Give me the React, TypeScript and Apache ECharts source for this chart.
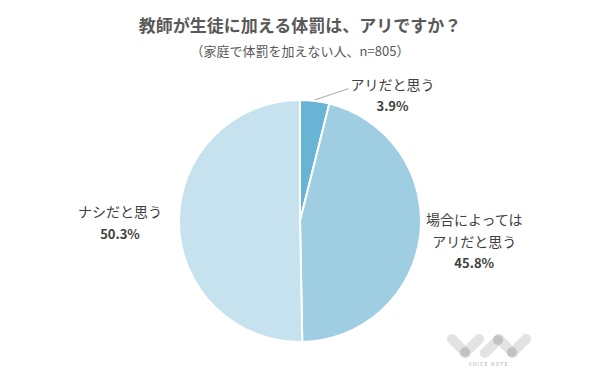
import React, { useEffect, useRef } from "react";
import * as echarts from "echarts";

const categories = ["アリだと思う", "場合によっては\nアリだと思う", "ナシだと思う"];
const values = [3.9, 45.8, 50.3];
const colors = ["#69b3d5", "#9fcde2", "#c5e2ee"];
const titleText = "教師が生徒に加える体罰は、アリですか？";
const subtitleText = "（家庭で体罰を加えない人、n=805）";
const logoText = "V O I C E   N O T E";

const FONT = '"Noto Sans CJK JP", "Noto Sans", sans-serif';

export default function App() {
  const ref = useRef<HTMLDivElement>(null);
  useEffect(() => {
    if (!ref.current) return;
    const chart = echarts.init(ref.current, undefined, { renderer: "svg" });
    const light = "#e3e3e3";
    const dark = "#c2c2c2";
    const capsule = (cx: number, cy: number, rot: number, fill: string) => ({
      type: "rect",
      x: cx,
      y: cy,
      rotation: rot,
      shape: { x: -15, y: -5, width: 30, height: 10, r: 5 },
      style: { fill },
    });
    chart.setOption({
      animation: false,
      backgroundColor: "#ffffff",
      title: [
        {
          text: titleText,
          left: "center",
          top: 11,
          textStyle: { fontFamily: FONT, fontSize: 17, fontWeight: "bold", color: "#595959" },
        },
        {
          text: subtitleText,
          left: "center",
          top: 39,
          textStyle: { fontFamily: FONT, fontSize: 13, fontWeight: "normal", color: "#595959" },
        },
      ],
      graphic: [
        capsule(459, 346, -Math.PI / 4, light),
        capsule(472, 346, Math.PI / 4, light),
        { type: "circle", shape: { cx: 465, cy: 352, r: 5 }, style: { fill: dark } },
        capsule(492, 346, Math.PI / 4, light),
        capsule(506, 346, -Math.PI / 4, light),
        capsule(519, 346, Math.PI / 4, light),
        { type: "circle", shape: { cx: 498, cy: 340, r: 5 }, style: { fill: dark } },
        { type: "circle", shape: { cx: 512, cy: 352, r: 5 }, style: { fill: dark } },
        {
          type: "text",
          x: 488,
          y: 363,
          style: { text: logoText, fontSize: 5, fill: "#b0b0b0", align: "center", verticalAlign: "middle", fontFamily: FONT },
        },
      ],
      series: [
        {
          type: "pie",
          center: [300, 221],
          radius: 121,
          startAngle: 90,
          clockwise: true,
          avoidLabelOverlap: false,
          itemStyle: { borderColor: "#ffffff", borderWidth: 2 },
          label: {
            show: true,
            position: "outside",
            formatter: (p: any) => `{n|${p.name}}\n{p|${Number(p.value).toFixed(1)}%}`,
            rich: {
              n: { fontFamily: FONT, fontSize: 14, color: "#404040", lineHeight: 22, align: "center" },
              p: { fontFamily: FONT, fontSize: 13, fontWeight: "bold", color: "#404040", lineHeight: 22, align: "center" },
            },
          },
          labelLine: { show: true, length: 6, length2: 30, lineStyle: { color: "#a6a6a6", width: 1 } },
          labelLayout: (params: any) => {
            if (params.dataIndex === 1) return { dy: 6 };
            if (params.dataIndex === 0 && params.labelLinePoints) {
              const pts = params.labelLinePoints;
              const r = params.labelRect;
              const start = [pts[0][0], pts[0][1] - 1];
              const end = [r.x - 2, r.y + r.height / 2 - 6];
              const mid = [(start[0] + end[0]) / 2, (start[1] + end[1]) / 2];
              return { labelLinePoints: [start, mid, end] };
            }
            return {};
          },
          data: categories.map((name, i) => ({
            name,
            value: values[i],
            itemStyle: { color: colors[i] },
            labelLine:
              i === 0
                ? undefined
                : { show: false, length: 0, length2: i === 2 ? 12 : 0 },
          })),
        },
      ],
    });
    return () => chart.dispose();
  }, []);
  return (
    <div
      ref={ref}
      style={{ position: "fixed", left: 0, top: 0, width: 600, height: 385, background: "#fff" }}
    />
  );
}
